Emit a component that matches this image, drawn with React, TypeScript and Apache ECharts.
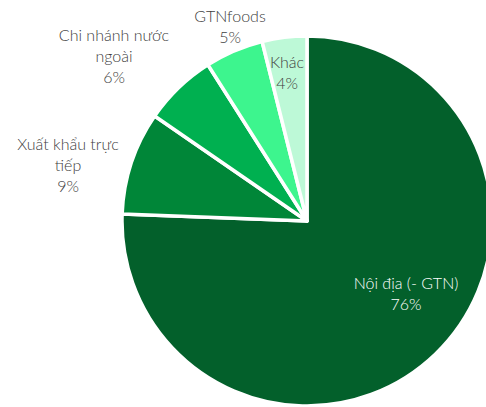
import React, { useEffect, useRef } from "react";
import * as echarts from "echarts";

// ---- data ----
const categories = [
  "Nội địa (- GTN)",
  "Xuất khẩu trực\ntiếp",
  "Chi nhánh nước\nngoài",
  "GTNfoods",
  "Khác",
];
const shares = [75.6, 9.0, 6.4, 5.1, 3.9];

// ---- styling (kept apart from the data) ----
const sliceColors = ["#03602B", "#008638", "#00B050", "#3DF58E", "#BDF9D7"];
const labelColors = ["#ffffff", "#404040", "#404040", "#404040", "#404040"];
// label block centres in px
const labelCentres: [number, number][] = [
  [406, 293],
  [68, 164],
  [114, 55],
  [230, 26],
  [287, 72],
];

export default function App() {
  const ref = useRef<HTMLDivElement>(null);

  useEffect(() => {
    if (!ref.current) return;
    const chart = echarts.init(ref.current, undefined, { renderer: "svg" });
    chart.setOption({
      animation: false,
      backgroundColor: "#ffffff",
      series: [
        {
          type: "pie",
          center: [307, 221],
          radius: 185,
          startAngle: 90,
          clockwise: true,
          avoidLabelOverlap: false,
          itemStyle: { borderColor: "#ffffff", borderWidth: 3.5 },
          labelLine: { show: false },
          label: {
            show: true,
            position: "outside",
            fontFamily: "Lato, 'Noto Sans', sans-serif",
            fontWeight: 300,
            fontSize: 16,
            lineHeight: 21,
            formatter: (p: any) => `${p.name}\n${Math.round(p.value)}%`,
          },
          labelLayout: (p: any) => {
            const c = labelCentres[p.dataIndex];
            return { x: c[0], y: c[1], align: "center", verticalAlign: "middle" };
          },
          emphasis: { disabled: true },
          data: categories.map((name, i) => ({
            name,
            value: shares[i],
            itemStyle: { color: sliceColors[i] },
            label: { color: labelColors[i] },
          })),
        },
      ],
    });
    return () => chart.dispose();
  }, []);

  return (
    <div
      ref={ref}
      style={{ position: "fixed", left: 0, top: 0, width: 486, height: 407 }}
    />
  );
}
